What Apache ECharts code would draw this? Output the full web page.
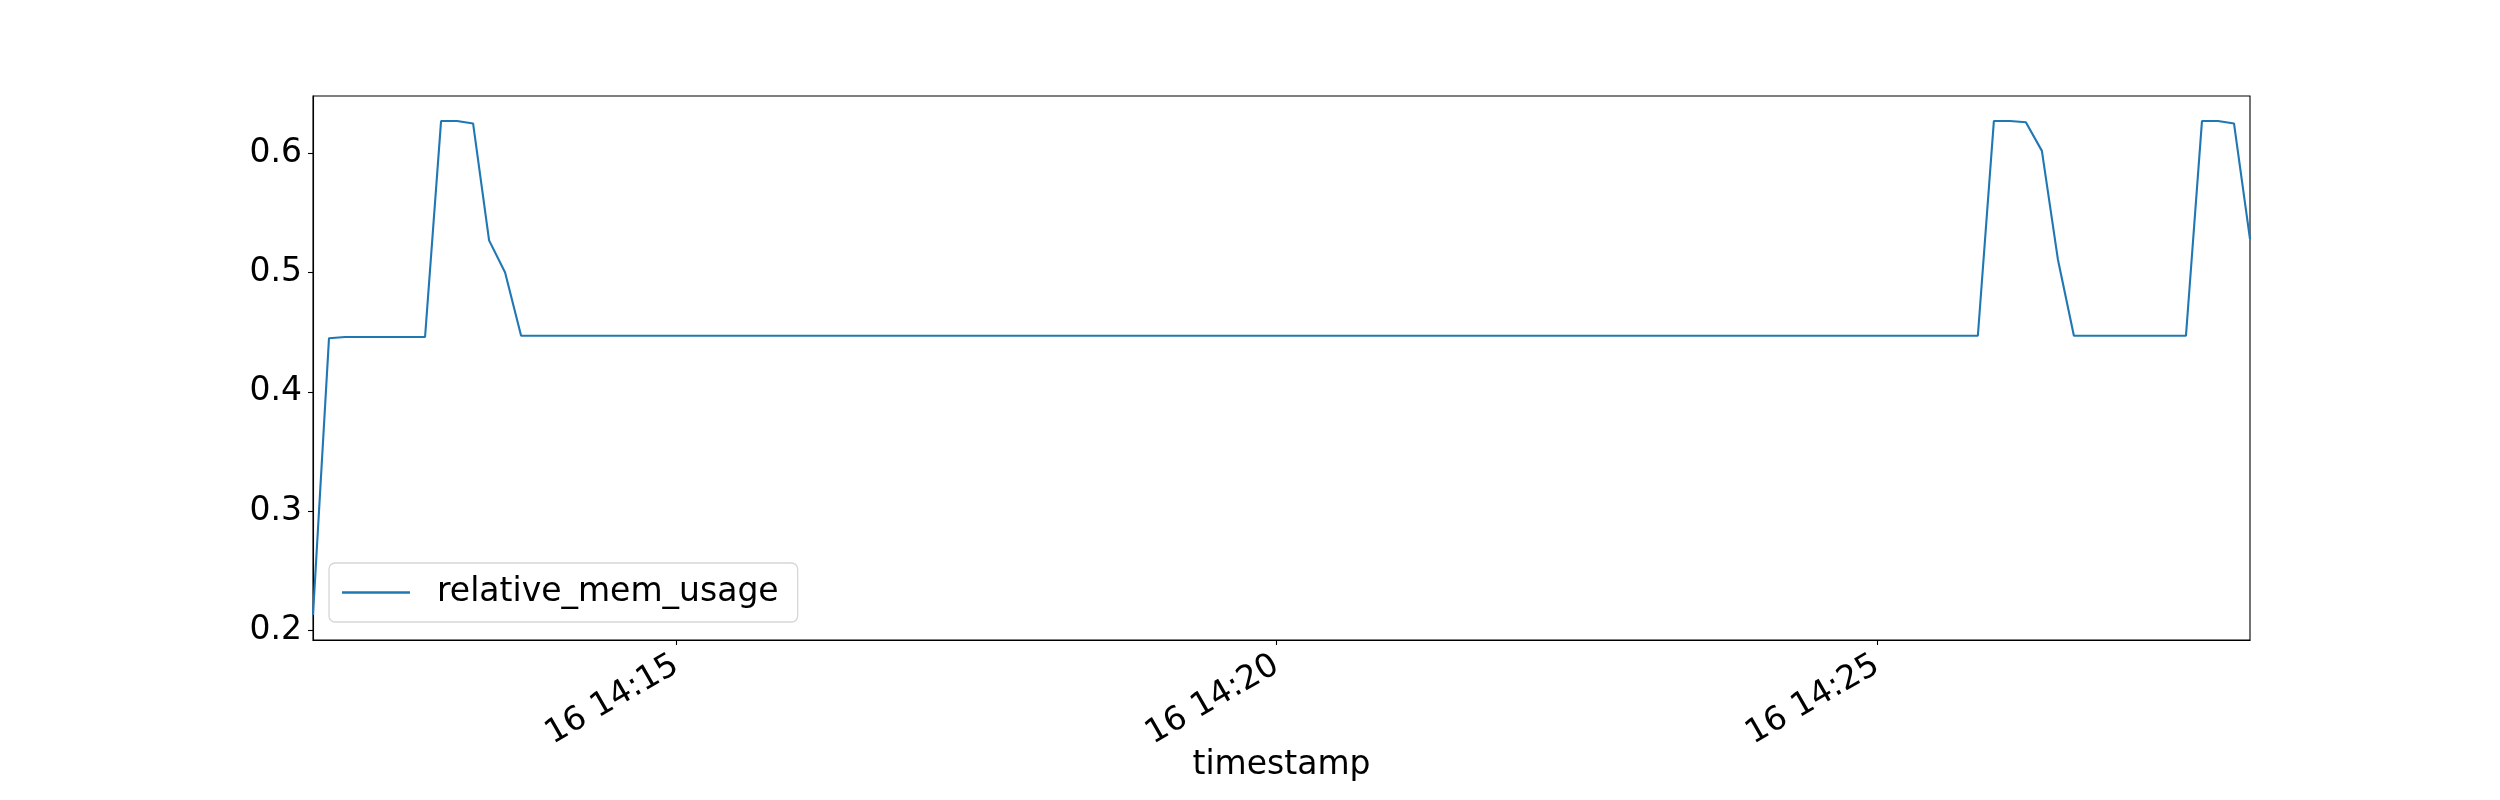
<!DOCTYPE html>
<html>
<head>
<meta charset="utf-8">
<script src="https://cdn.jsdelivr.net/npm/echarts@6/dist/echarts.min.js"></script>
<style>
html,body{margin:0;padding:0;background:#fff;}
#chart{width:2500px;height:800px;}
</style>
</head>
<body>
<div id="chart"></div>
<script>
// ---- data ----
var seriesName = 'relative_mem_usage';
var startTime = Date.UTC(2020, 0, 16, 14, 11, 58, 500); // first sample
var stepMs = 8000; // sampling interval
var memValues = [
  0.213, 0.445, 0.446, 0.446, 0.446, 0.446, 0.446, 0.446,
  0.627, 0.627, 0.625, 0.527, 0.500, 0.447,
  0.447, 0.447, 0.447, 0.447, 0.447, 0.447, 0.447, 0.447, 0.447, 0.447,
  0.447, 0.447, 0.447, 0.447, 0.447, 0.447, 0.447, 0.447, 0.447, 0.447,
  0.447, 0.447, 0.447, 0.447, 0.447, 0.447, 0.447, 0.447, 0.447, 0.447,
  0.447, 0.447, 0.447, 0.447, 0.447, 0.447, 0.447, 0.447, 0.447, 0.447,
  0.447, 0.447, 0.447, 0.447, 0.447, 0.447, 0.447, 0.447, 0.447, 0.447,
  0.447, 0.447, 0.447, 0.447, 0.447, 0.447, 0.447, 0.447, 0.447, 0.447,
  0.447, 0.447, 0.447, 0.447, 0.447, 0.447, 0.447, 0.447, 0.447, 0.447,
  0.447, 0.447, 0.447, 0.447, 0.447, 0.447, 0.447, 0.447, 0.447, 0.447,
  0.447, 0.447, 0.447, 0.447, 0.447, 0.447, 0.447, 0.447, 0.447, 0.447,
  0.447,
  0.627, 0.627, 0.626, 0.602, 0.511, 0.447,
  0.447, 0.447, 0.447, 0.447, 0.447, 0.447, 0.447,
  0.627, 0.627, 0.625, 0.528
];
var xTickTimes = [
  Date.UTC(2020, 0, 16, 14, 15, 0),
  Date.UTC(2020, 0, 16, 14, 20, 0),
  Date.UTC(2020, 0, 16, 14, 25, 0)
];
var yTickValues = [0.2, 0.3, 0.4, 0.5, 0.6];
var yMin = 0.192, yMax = 0.648;

// ---- build ----
var timestamps = memValues.map(function (v, i) { return startTime + i * stepMs; });
var seriesData = memValues.map(function (v, i) { return [timestamps[i], v]; });

function pad2(n) { return (n < 10 ? '0' : '') + n; }
function fmtTime(val) {
  var d = new Date(val);
  return d.getUTCDate() + ' ' + pad2(d.getUTCHours()) + ':' + pad2(d.getUTCMinutes());
}

var FONT = 'DejaVu Sans';
var chart = echarts.init(document.getElementById('chart'), null, {renderer: 'canvas'});
chart.setOption({
  animation: false,
  backgroundColor: '#ffffff',
  grid: {
    left: 313, right: 250, top: 96, bottom: 160,
    show: true, borderColor: '#000000', borderWidth: 1.1, backgroundColor: 'transparent'
  },
  legend: {
    show: true,
    left: 329, top: 563,
    orient: 'vertical',
    data: [{name: seriesName, icon: 'rect'}],
    itemWidth: 68, itemHeight: 2.5,
    padding: [13, 19, 13, 13],
    backgroundColor: 'rgba(255,255,255,0.8)',
    borderColor: '#d6d6d6', borderWidth: 1.3, borderRadius: 6,
    textStyle: {fontFamily: FONT, fontSize: 33, color: '#000', padding: [0, 0, 0, 22]}
  },
  xAxis: {
    type: 'value',
    min: timestamps[0],
    max: timestamps[timestamps.length - 1],
    name: 'timestamp',
    nameLocation: 'middle',
    nameGap: 109,
    nameMoveOverlap: false,
    nameTextStyle: {fontFamily: FONT, fontSize: 33, color: '#000'},
    axisLine: {show: true, onZero: false, lineStyle: {color: '#000', width: 1.1}},
    axisTick: {show: true, length: 5, lineStyle: {color: '#000', width: 1.1}, customValues: xTickTimes},
    axisLabel: {
      show: true, rotate: 30, margin: 23, customValues: xTickTimes,
      fontFamily: FONT, fontSize: 33, color: '#000',
      formatter: function (val) { return fmtTime(val); }
    },
    splitLine: {show: false}
  },
  yAxis: {
    type: 'value',
    min: yMin, max: yMax,
    axisLine: {show: true, onZero: false, lineStyle: {color: '#000', width: 1.1}},
    axisTick: {show: true, length: 5, lineStyle: {color: '#000', width: 1.1}, customValues: yTickValues},
    axisLabel: {
      show: true, margin: 11, customValues: yTickValues,
      fontFamily: FONT, fontSize: 33, color: '#000',
      formatter: function (v) { return v.toFixed(1); }
    },
    splitLine: {show: false}
  },
  series: [{
    name: seriesName,
    type: 'line',
    data: seriesData,
    showSymbol: false,
    symbol: 'none',
    lineStyle: {color: '#1f77b4', width: 2.1},
    itemStyle: {color: '#1f77b4'},
    clip: true
  }]
});
</script>
</body>
</html>
